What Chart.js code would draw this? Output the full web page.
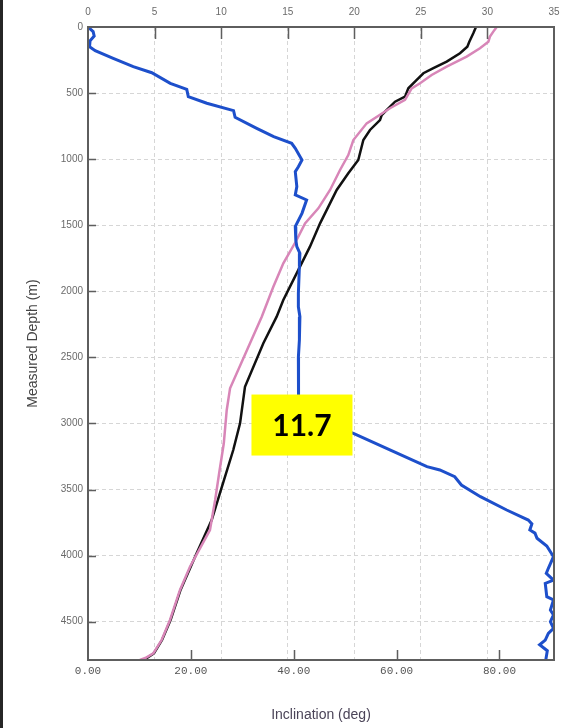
<!DOCTYPE html>
<html>
<head>
<meta charset="utf-8">
<script src="https://cdn.jsdelivr.net/npm/chart.js@4.4.1/dist/chart.umd.min.js"></script>
<style>
  html, body { margin: 0; padding: 0; background: #fff; }
  #wrap { position: relative; width: 580px; height: 728px; }
  #wrap canvas { position: absolute; left: 0; top: 0; }
  #edge { position: absolute; left: 0; top: 0; width: 3px; height: 728px; background: #262626; }
</style>
</head>
<body>
<div id="wrap">
  <canvas id="c" width="580" height="728"></canvas>
  <div id="edge"></div>
</div>
<script>
// Tick values
const depthTicks = [0, 500, 1000, 1500, 2000, 2500, 3000, 3500, 4000, 4500];
const topTicks = [0, 5, 10, 15, 20, 25, 30, 35];
const bottomTicks = [0, 20, 40, 60, 80];

// Inclination survey (bottom axis, deg) vs measured depth (m)
const inclDepth = [0, 35, 68, 104, 149, 179, 237, 300, 346, 426, 472, 527, 577, 633, 683, 767, 830, 880, 918,
  1006, 1057, 1095, 1208, 1271, 1309, 1410, 1511, 1612, 1662, 1713, 1813, 2015, 2117, 2192, 2368, 2500, 2650, 2772,
  2860, 3000, 3075, 3201, 3327, 3352, 3403, 3466, 3554, 3655, 3731, 3760, 3806, 3830, 3869, 3927, 4008, 4096, 4134,
  4185, 4210, 4311, 4336, 4412, 4449, 4500, 4550, 4588, 4639, 4675, 4720, 4790];
const inclValue = [0.0, 1.0, 1.2, 0.4, 0.3, 1.4, 4.9, 8.8, 12.4, 16.0, 19.2, 19.5, 23.1, 28.3, 28.6, 32.8, 36.1, 39.6, 40.3,
  41.6, 40.9, 40.3, 40.6, 40.3, 42.5, 41.6, 40.3, 40.4, 40.6, 41.2, 41.1, 40.9, 40.9, 41.2, 41.1, 40.9, 41.0, 40.9,
  40.9, 46.5, 51.6, 58.8, 65.9, 68.4, 71.3, 72.6, 76.3, 81.4, 85.6, 86.3, 85.9, 86.9, 87.3, 89.2, 90.5, 89.5, 89.1,
  90.5, 88.9, 89.2, 90.5, 89.9, 90.5, 89.9, 90.5, 89.5, 88.9, 87.8, 89.3, 89.0];

// Black curve (top axis) vs measured depth
const blackDepth = [0, 48, 111, 149, 199, 262, 312, 350, 401, 464, 527, 565, 666, 704, 779, 855, 1006, 1107, 1233,
  1486, 1662, 1864, 2066, 2192, 2393, 2722, 2999, 3201, 3528, 3731, 3983, 4260, 4487, 4639, 4739, 4790];
const blackValue = [29.14, 28.94, 28.64, 28.49, 27.94, 26.94, 25.94, 25.19, 24.69, 24.06, 23.81, 23.06, 22.06, 21.93,
  21.18, 20.68, 20.30, 19.55, 18.68, 17.43, 16.67, 15.67, 14.67, 14.17, 13.17, 11.79, 11.42, 10.91, 9.91, 9.29, 8.16,
  6.95, 6.20, 5.56, 4.95, 4.20];

// Pink curve (top axis) vs measured depth
const pinkDepth = [0, 35, 73, 111, 161, 224, 300, 363, 426, 464, 552, 615, 729, 855, 969, 1082, 1233, 1372, 1486,
  1612, 1788, 1965, 2192, 2734, 2898, 3150, 3377, 3579, 3806, 4084, 4260, 4487, 4639, 4739, 4775, 4790];
const pinkValue = [30.70, 30.44, 30.19, 30.07, 29.44, 28.44, 26.94, 25.81, 24.94, 24.31, 23.81, 22.68, 20.93, 19.93,
  19.55, 18.93, 18.18, 17.30, 16.30, 15.67, 14.67, 13.92, 13.05, 10.67, 10.42, 10.20, 9.85, 9.55, 9.16, 7.66, 6.91,
  6.16, 5.53, 4.91, 4.30, 3.90];

// Callout
const calloutText = '11.7';
const calloutAnchor = { incl: 41.6, depth: 3012 };

const pts = (xs, ys) => xs.map((d, i) => ({ x: ys[i], y: d }));

const frameAndTicks = {
  id: 'frameAndTicks',
  afterDraw(chart) {
    const { ctx, chartArea: a, scales } = chart;
    ctx.save();
    ctx.strokeStyle = '#5e5e5e';
    ctx.lineWidth = 2;
    ctx.strokeRect(a.left, a.top, a.right - a.left, a.bottom - a.top);
    ctx.lineWidth = 1.5;
    ctx.beginPath();
    depthTicks.forEach(v => {
      if (v === 0) return;
      const y = Math.round(scales.y.getPixelForValue(v)) + 0.5;
      ctx.moveTo(a.left, y); ctx.lineTo(a.left + 8, y);
    });
    topTicks.forEach(v => {
      if (v === 0 || v === 35) return;
      const x = Math.round(scales.xTop.getPixelForValue(v)) + 0.5;
      ctx.moveTo(x, a.top); ctx.lineTo(x, a.top + 12);
    });
    bottomTicks.forEach(v => {
      if (v === 0) return;
      const x = Math.round(scales.xBottom.getPixelForValue(v)) + 0.5;
      ctx.moveTo(x, a.bottom); ctx.lineTo(x, a.bottom - 10);
    });
    ctx.stroke();

    // yellow value callout
    const cx = scales.xBottom.getPixelForValue(calloutAnchor.incl);
    const cy = scales.y.getPixelForValue(calloutAnchor.depth);
    const w = 101, h = 61;
    ctx.fillStyle = '#ffff00';
    ctx.fillRect(cx - w / 2, cy - h / 2, w, h);
    ctx.fillStyle = '#000';
    ctx.font = 'bold 30px Lato, "Liberation Sans", sans-serif';
    ctx.textAlign = 'center';
    ctx.textBaseline = 'middle';
    ctx.fillText(calloutText, cx, cy + 1);
    ctx.restore();
  }
};

const setTicks = vals => scale => { scale.ticks = vals.map(v => ({ value: v })); };

new Chart(document.getElementById('c'), {
  type: 'scatter',
  data: {
    datasets: [
      {
        label: 'Inclination',
        data: pts(inclDepth, inclValue),
        xAxisID: 'xBottom', yAxisID: 'y',
        showLine: true, borderColor: '#1d4fcb', borderWidth: 3,
        pointRadius: 0, tension: 0
      },
      {
        label: 'Pink',
        data: pts(pinkDepth, pinkValue),
        xAxisID: 'xTop', yAxisID: 'y',
        showLine: true, borderColor: '#d886b8', borderWidth: 2.5,
        pointRadius: 0, tension: 0
      },
      {
        label: 'Black',
        data: pts(blackDepth, blackValue),
        xAxisID: 'xTop', yAxisID: 'y',
        showLine: true, borderColor: '#111111', borderWidth: 2.5,
        pointRadius: 0, tension: 0
      }
    ]
  },
  options: {
    responsive: false,
    animation: false,
    layout: { padding: { left: 0, right: 26, top: 0, bottom: 0 } },
    plugins: { legend: { display: false }, tooltip: { enabled: false } },
    scales: {
      y: {
        type: 'linear', position: 'left', reverse: true, min: 0, max: 4790,
        afterBuildTicks: setTicks(depthTicks),
        afterFit: s => { s.width = 88; },
        grid: {
          drawTicks: false,
          color: ctx => (ctx.tick && ctx.tick.value === 0) ? 'rgba(0,0,0,0)' : '#d6d6d6',
          lineWidth: 1
        },
        border: { display: false, dash: [4, 3] },
        ticks: {
          padding: 5, color: '#6a6a6a',
          callback: v => String(v),
          font: { family: '"Liberation Sans", Arial, sans-serif', size: 10 }
        },
        title: {
          display: true, text: 'Measured Depth (m)', color: '#454545',
          font: { family: '"Liberation Sans", Arial, sans-serif', size: 14 },
          padding: { top: 25, bottom: 0 }
        }
      },
      xTop: {
        type: 'linear', position: 'top', min: 0, max: 35,
        afterBuildTicks: setTicks(topTicks),
        afterFit: s => { s.height = 27; },
        grid: {
          drawTicks: false,
          color: ctx => (ctx.tick && (ctx.tick.value === 0 || ctx.tick.value === 35)) ? 'rgba(0,0,0,0)' : '#d6d6d6',
          lineWidth: 1
        },
        border: { display: false, dash: [4, 3] },
        ticks: {
          padding: 9, color: '#6a6a6a', autoSkip: false, maxRotation: 0,
          callback: v => String(v),
          font: { family: '"Liberation Sans", Arial, sans-serif', size: 10 }
        }
      },
      xBottom: {
        type: 'linear', position: 'bottom', min: 0, max: 90.6,
        afterBuildTicks: setTicks(bottomTicks),
        afterFit: s => { s.height = 68; },
        grid: { display: false, drawTicks: false },
        border: { display: false },
        ticks: {
          padding: 4, color: '#555555', autoSkip: false, maxRotation: 0,
          callback: v => Number(v).toFixed(2),
          font: { family: '"Liberation Mono", "Courier New", monospace', size: 11 }
        },
        title: {
          display: true, text: 'Inclination (deg)', color: '#4b4458',
          font: { family: '"Liberation Sans", Arial, sans-serif', size: 14 },
          padding: { top: 0, bottom: 4 }
        }
      }
    }
  },
  plugins: [frameAndTicks]
});
</script>
</body>
</html>
